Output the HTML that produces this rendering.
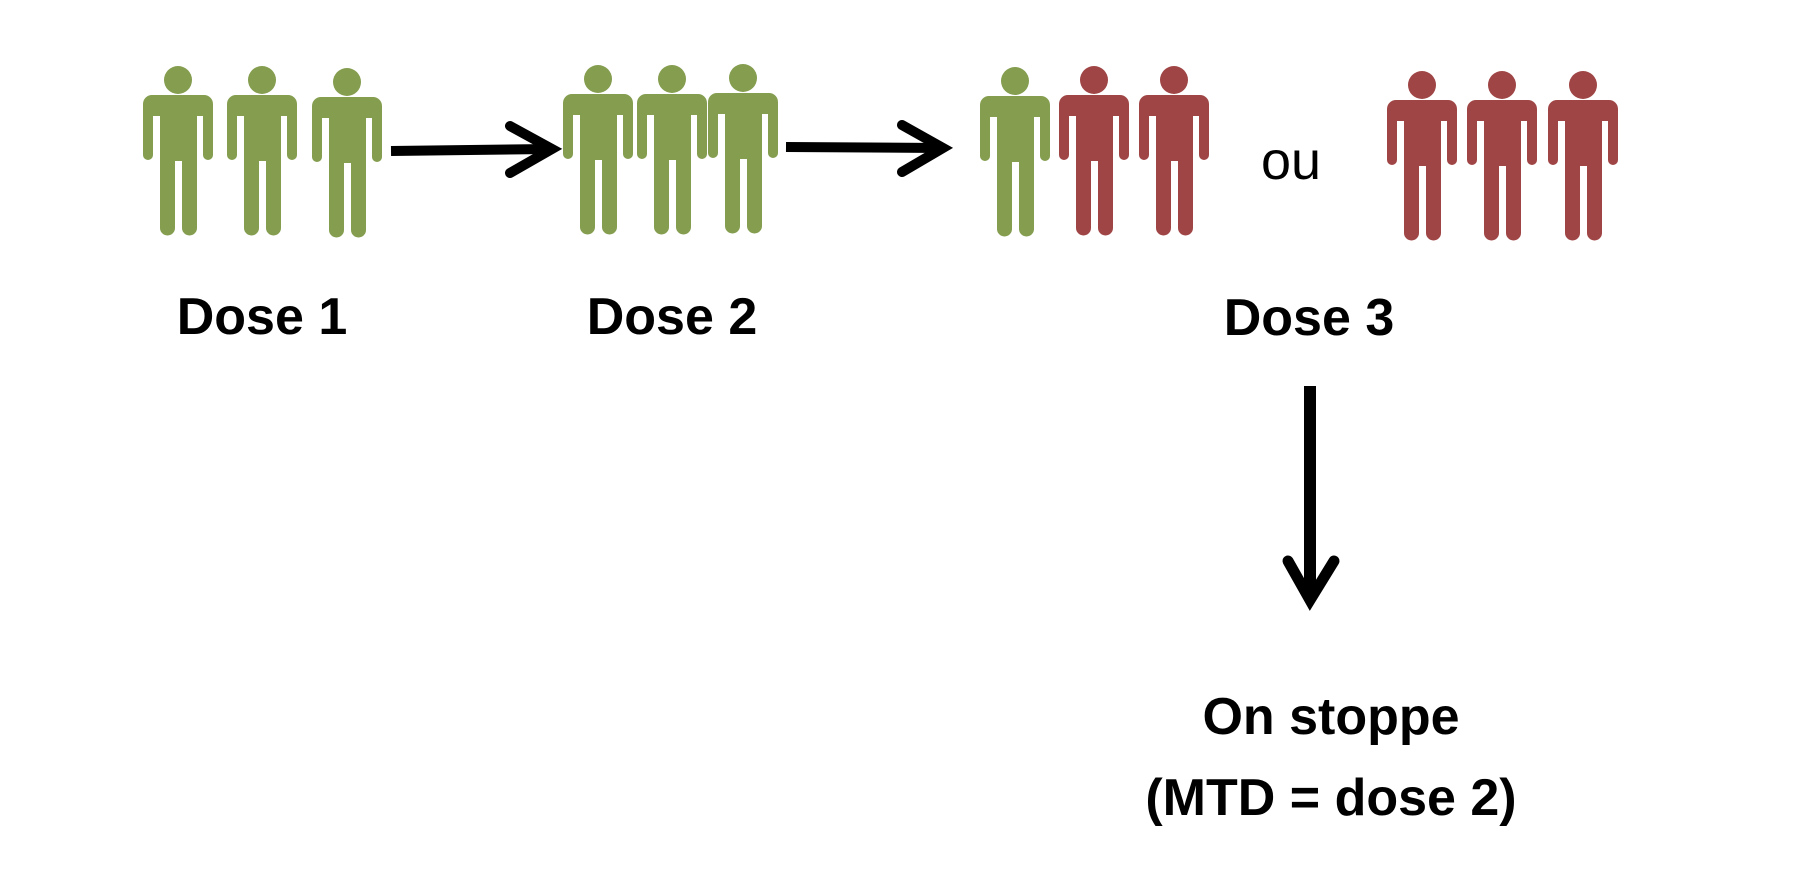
<!DOCTYPE html>
<html><head><meta charset="utf-8"><style>
html,body{margin:0;padding:0;background:#fff;}
svg{display:block;}
text{font-family:"Liberation Sans",sans-serif;}
</style></head><body>
<svg width="1818" height="894" viewBox="0 0 1818 894" xmlns="http://www.w3.org/2000/svg">
<defs>
<g id="p">
  <circle cx="35" cy="14" r="14"/>
  <path d="M9 29 H61 A9 9 0 0 1 70 38 V89 A5 5 0 0 1 60 89 V50 H54 V162 A7 7 0 0 1 39 162 V95 H32 V162 A7 7 0 0 1 17 162 V50 H10 V89 A5 5 0 0 1 0 89 V38 A9 9 0 0 1 9 29 Z"/>
</g>
</defs>
<g fill="#849D4F">
  <use href="#p" x="143" y="66"/>
  <use href="#p" x="227" y="66"/>
  <use href="#p" x="312" y="68"/>
  <use href="#p" x="563" y="65"/>
  <use href="#p" x="637" y="65"/>
  <use href="#p" x="708" y="64"/>
  <use href="#p" x="980" y="67"/>
</g>
<g fill="#A04545">
  <use href="#p" x="1059" y="66"/>
  <use href="#p" x="1139" y="66"/>
  <use href="#p" x="1387" y="71"/>
  <use href="#p" x="1467" y="71"/>
  <use href="#p" x="1548" y="71"/>
</g>
<g stroke="#000" fill="none" stroke-width="10" stroke-linecap="round" stroke-linejoin="miter">
  <line x1="391" y1="151" x2="550" y2="149" stroke-linecap="butt"/>
  <polyline points="510,126 552,149 510,173"/>
  <line x1="786" y1="147" x2="941" y2="148" stroke-linecap="butt"/>
  <polyline points="902,125 943,148 902,172"/>
  <line x1="1310" y1="386" x2="1310" y2="598" stroke-width="12" stroke-linecap="butt"/>
  <polyline points="1288,561 1310,600 1334,561" stroke-width="11"/>
</g>
<g font-weight="bold" font-size="52" text-anchor="middle" fill="#000">
  <text x="262" y="334">Dose 1</text>
  <text x="672" y="334">Dose 2</text>
  <text x="1309" y="335">Dose 3</text>
  <text x="1331" y="734">On stoppe</text>
  <text x="1331" y="815">(MTD = dose 2)</text>
</g>
<text x="1291" y="179" font-size="54" text-anchor="middle" fill="#000">ou</text>
</svg>
</body></html>
